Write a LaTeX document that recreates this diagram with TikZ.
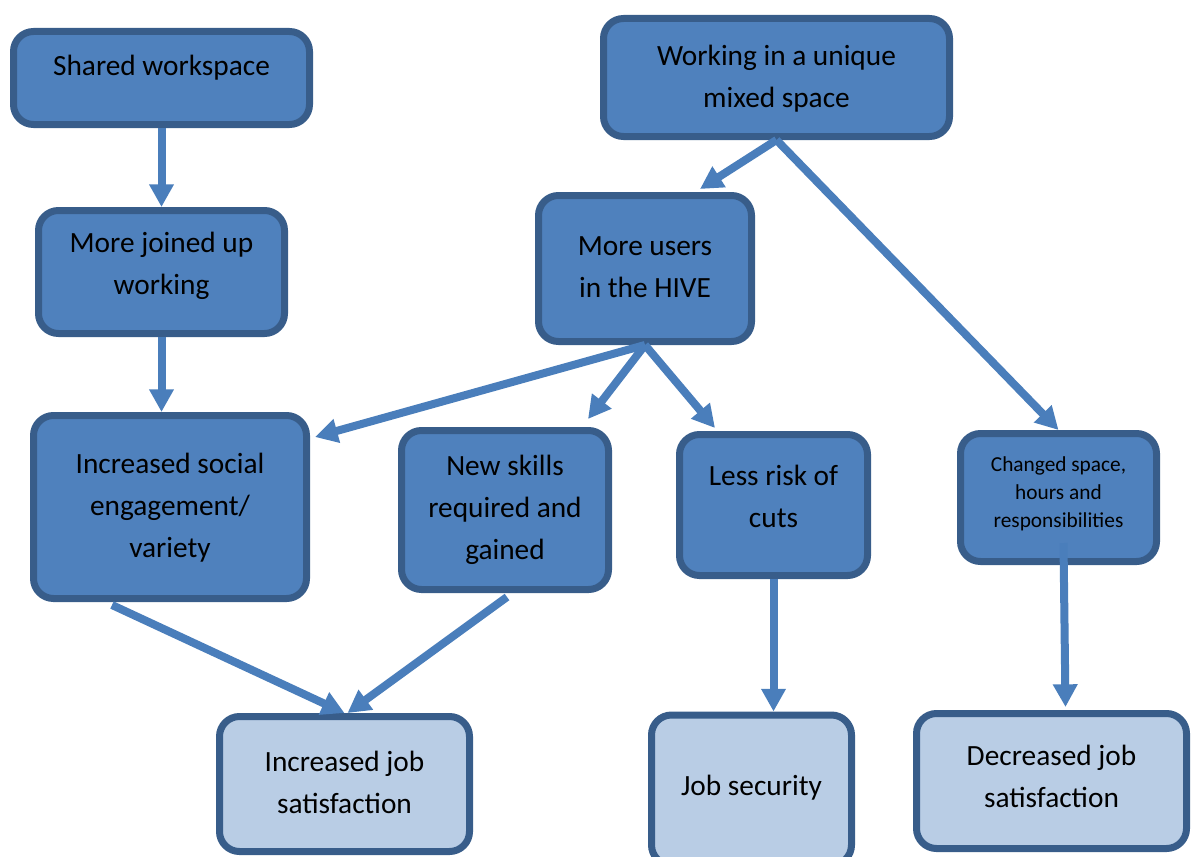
\documentclass[tikz,border=0pt]{standalone}
\usepackage{fontspec}
\setmainfont{Carlito}
\usetikzlibrary{arrows.meta,calc}
\definecolor{boxfill}{HTML}{4F81BD}
\definecolor{boxline}{HTML}{385D8A}
\definecolor{lightfill}{HTML}{B9CDE5}
\definecolor{arrowc}{HTML}{4A7EBB}
\begin{document}
\begin{tikzpicture}[x=0.75pt,y=-0.75pt,
  box/.style={draw=boxline, line width=5.25pt, fill=boxfill, rounded corners=15pt, inner sep=0pt},
  light/.style={box, fill=lightfill},
  sz/.style 2 args={minimum width=#1*0.75pt, minimum height=#2*0.75pt},
  big/.style={align=center, font=\fontsize{22}{31.5}\selectfont, text=black, inner sep=0pt},
  small/.style={align=center, font=\fontsize{16}{21}\selectfont, text=black, inner sep=0pt},
  arr/.style={draw=arrowc, line width=6pt, -{Triangle[width=17.5pt,length=17pt]}}
]
\useasboundingbox (0,0) rectangle (1194,856);

\node[box, sz={296}{93}, label={[big,yshift=8pt]center:{Shared workspace}}] (ws) at (161.5,78) {};
\node[box, sz={346}{118}, label={[big,yshift=-1pt]center:{Working in a unique\\mixed space}}] (work) at (776.5,77.5) {};
\node[box, sz={246}{123}, label={[big,yshift=4.5pt]center:{More joined up\\working}}] (join) at (161.5,272) {};
\node[box, sz={213}{146}, label={[big,yshift=1pt]center:{More users\\in the HIVE}}] (hive) at (645,268.5) {};
\node[box, sz={273}{183}, label={[big,yshift=-0.5pt]center:{Increased social\\engagement/\\variety}}] (social) at (170,507) {};
\node[box, sz={207}{159}, label={[big,yshift=0pt]center:{New skills\\required and\\gained}}] (skills) at (505,510) {};
\node[box, sz={188}{141}, label={[big,yshift=6.5pt]center:{Less risk of\\cuts}}] (cuts) at (773.5,505) {};
\node[box, sz={196}{128}, label={[small,yshift=3pt]center:{Changed space,\\hours and\\responsibilities}}] (changed) at (1058.5,497.5) {};
\node[light, sz={250}{135}, label={[big,yshift=1pt]center:{Increased job\\satisfaction}}] (incjob) at (344.5,784) {};
\node[light, sz={200}{150}, label={[big,yshift=1.5pt]center:{Job security}}] (jobsec) at (751.5,790) {};
\node[light, sz={270}{135}, label={[big,yshift=3.5pt]center:{Decreased job\\satisfaction}}] (dec) at (1051.5,781) {};

\draw[arr] (ws.south) -- (join.north);
\draw[arr] (join.south) -- (join.south |- social.north);
\draw[arr] (work.south) -- ($(hive.north)+(55,-3)$);
\draw[arr] (work.south) -- (changed.north);
\draw[arr] (hive.south) -- ($(social.north east)+(5,25)$);
\draw[arr] (hive.south) -- ($(skills.north east)+(-24,-8)$);
\draw[arr] (hive.south) -- ($(cuts.north west)+(39,-3)$);
\draw[arr] ($(social.south)+(-58,3)$) -- (incjob.north);
\draw[arr] ($(skills.south)+(2,4)$) -- ($(incjob.north)+(3,0)$);
\draw[arr] (cuts.south) -- (cuts.south |- jobsec.north);
\draw[arr] ($(changed.south)+(5,-22)$) -- ($(dec.north)+(14,-3)$);
\end{tikzpicture}
\end{document}
